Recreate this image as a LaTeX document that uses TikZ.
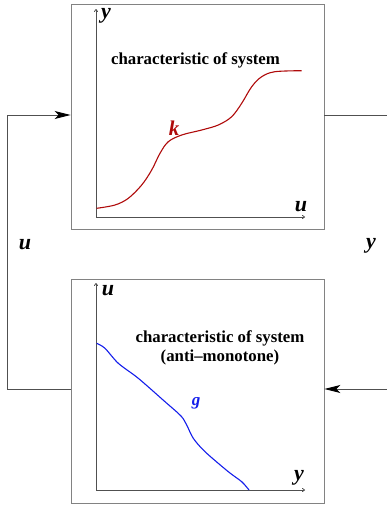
\documentclass[tikz,border=0pt]{standalone}
\usepackage{fontspec}
\setmainfont{Liberation Serif}
\usetikzlibrary{arrows.meta}
\definecolor{kred}{RGB}{175,10,10}
\definecolor{gblue}{RGB}{20,30,235}
\definecolor{boxgray}{RGB}{130,130,130}
\definecolor{linegray}{RGB}{80,80,80}
\begin{document}
\begin{tikzpicture}[x=1pt,y=-1pt,
  sysbox/.style={draw=boxgray,line width=0.9pt,minimum width=253pt,inner sep=0pt},
  wire/.style={draw=linegray,line width=0.9pt},
  flowarrow/.style={-{Stealth[length=16pt,width=8pt,inset=4pt,black]}},
  axis/.style={draw=linegray,line width=0.8pt,-{To[length=3pt,width=4pt]}},
  biglabel/.style={font=\fontsize{22}{24}\selectfont\bfseries\itshape,inner sep=0pt},
  captext/.style={font=\fontsize{16.8}{18.5}\selectfont\bfseries,inner sep=0pt,align=center}]
\useasboundingbox (0,0) rectangle (386,506);
% boxes
\node[sysbox,minimum height=225pt] (sysk) at (197.5,116.5) {};
\node[sysbox,minimum height=224pt] (sysg) at (197.5,391) {};
% wires
\coordinate (lt) at (7,115);
\coordinate (lb) at (7,389);
\coordinate (rt) at (388,115);
\coordinate (rb) at (388,389);
\draw[wire,flowarrow] (sysg.west |- lb) -- (lb) -- (lt) -- (sysk.west |- lt);
\draw[wire] (sysk.east |- rt) -- (rt);
\draw[wire,flowarrow] (rb) -- (sysg.east |- rb);
\node[biglabel] (lu) at (25,245) {u};
\node[biglabel] (ry) at (371,246) {y};
% top graph
\coordinate (ko) at (96,217);
\coordinate (kyend) at (96,9);
\coordinate (kxend) at (305,217);
\draw[axis] (ko) -- (kyend);
\draw[axis] (ko) -- (kxend);
\node[biglabel] (kyl) at (106,16) {y};
\node[biglabel] (kxl) at (301,207) {u};
\node[captext] (kcap) at (195.5,60) {characteristic of system};
\draw[kred,line width=1.1pt] plot[smooth,tension=0.55] coordinates {(96.7,208.3) (115,205) (128.3,198.3) (141.7,185) (151.7,170) (160,153.3) (168.3,141.7) (181.7,135) (201.7,130) (218.3,125) (231.7,116.7) (241.7,103.3) (251.7,86.7) (261.7,76.7) (275,71.7) (301.7,70.7)};
\node[biglabel,text=kred,font=\fontsize{21}{24}\selectfont\bfseries\itshape] (kl) at (174,128) {k};
% bottom graph
\coordinate (go) at (96,490);
\coordinate (gyend) at (96,283);
\coordinate (gxend) at (305,490);
\draw[axis] (go) -- (gyend);
\draw[axis] (go) -- (gxend);
\node[biglabel] (gyl) at (108,291) {u};
\node[biglabel] (gxl) at (299,478) {y};
\node[captext] (gcap) at (220,348) {characteristic of system\\(anti--monotone)};
\draw[gblue,line width=1.1pt] plot[smooth,tension=0.5] coordinates {(96.7,343.3) (105,348.3) (118.3,363.3) (138.3,378.3) (165,401.7) (181,416) (186.7,425) (193.3,438.3) (205,451.7) (228.3,471.7) (241.7,481.7) (249,490)};
\node[biglabel,text=gblue,font=\fontsize{17}{20}\selectfont\bfseries\itshape] (gl) at (196,403) {g};
\end{tikzpicture}
\end{document}
